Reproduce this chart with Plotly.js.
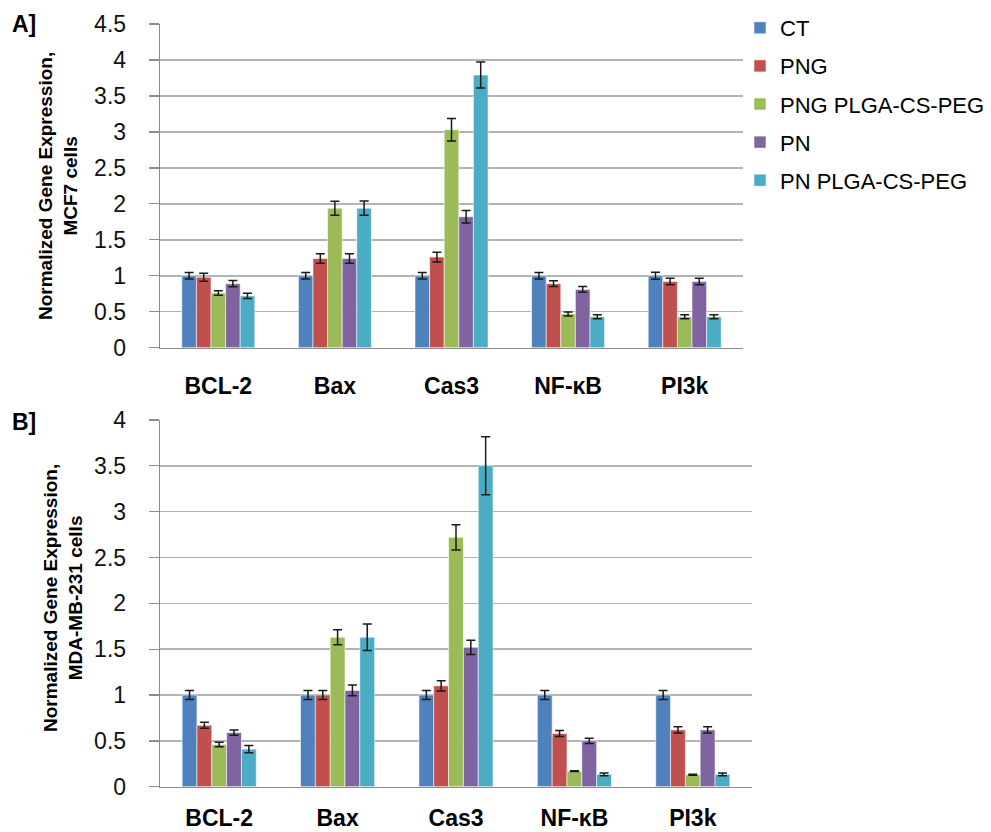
<!DOCTYPE html>
<html>
<head>
<meta charset="utf-8">
<script src="https://cdn.plot.ly/plotly-3.0.1.min.js"></script>
<style>html,body{margin:0;padding:0;background:#fff}#chart{width:991px;height:832px}</style>
</head>
<body>
<div id="chart"></div>
<script>
// ---- data ----
const categories = ["BCL-2", "Bax", "Cas3", "NF-κB", "PI3k"];
const seriesNames = ["CT", "PNG", "PNG PLGA-CS-PEG", "PN", "PN PLGA-CS-PEG"];
const seriesColors = ["#4F81BD", "#C0504D", "#9BBB59", "#8064A2", "#4BACC6"];

// Panel A: MCF7 cells
const mcf7_CT        = [1.00, 1.00, 1.00, 1.00, 1.00];
const mcf7_PNG       = [0.98, 1.24, 1.26, 0.89, 0.92];
const mcf7_PNG_PLGA  = [0.76, 1.94, 3.03, 0.47, 0.43];
const mcf7_PN        = [0.89, 1.24, 1.82, 0.81, 0.92];
const mcf7_PN_PLGA   = [0.72, 1.94, 3.79, 0.43, 0.43];
const mcf7_err_CT       = [0.046, 0.046, 0.046, 0.046, 0.05];
const mcf7_err_PNG      = [0.056, 0.065, 0.067, 0.04, 0.046];
const mcf7_err_PNG_PLGA = [0.03, 0.097, 0.155, 0.028, 0.028];
const mcf7_err_PN       = [0.044, 0.065, 0.086, 0.04, 0.046];
const mcf7_err_PN_PLGA  = [0.037, 0.1, 0.18, 0.028, 0.028];

// Panel B: MDA-MB-231 cells
const mda_CT        = [1.00, 1.00, 1.00, 1.00, 1.00];
const mda_PNG       = [0.67, 1.00, 1.10, 0.58, 0.62];
const mda_PNG_PLGA  = [0.46, 1.63, 2.72, 0.17, 0.13];
const mda_PN        = [0.59, 1.05, 1.52, 0.50, 0.62];
const mda_PN_PLGA   = [0.41, 1.63, 3.50, 0.135, 0.135];
const mda_err_CT       = [0.05, 0.05, 0.05, 0.05, 0.05];
const mda_err_PNG      = [0.033, 0.05, 0.056, 0.033, 0.035];
const mda_err_PNG_PLGA = [0.025, 0.082, 0.138, 0.005, 0.005];
const mda_err_PN       = [0.029, 0.058, 0.078, 0.029, 0.035];
const mda_err_PN_PLGA  = [0.04, 0.145, 0.316, 0.015, 0.015];

const yTicksA = [0, 0.5, 1, 1.5, 2, 2.5, 3, 3.5, 4, 4.5];
const yTickTextA = ["0", "0.5", "1", "1.5", "2", "2.5", "3", "3.5", "4", "4.5"];
const yTicksB = [0, 0.5, 1, 1.5, 2, 2.5, 3, 3.5, 4];
const yTickTextB = ["0", "0.5", "1", "1.5", "2", "2.5", "3", "3.5", "4"];

const valsA = [mcf7_CT, mcf7_PNG, mcf7_PNG_PLGA, mcf7_PN, mcf7_PN_PLGA];
const errsA = [mcf7_err_CT, mcf7_err_PNG, mcf7_err_PNG_PLGA, mcf7_err_PN, mcf7_err_PN_PLGA];
const valsB = [mda_CT, mda_PNG, mda_PNG_PLGA, mda_PN, mda_PN_PLGA];
const errsB = [mda_err_CT, mda_err_PNG, mda_err_PNG_PLGA, mda_err_PN, mda_err_PN_PLGA];

const FONT = "Liberation Sans, Arial, sans-serif";
const traces = [];
function addPanel(vals, errs, xa, ya, showleg) {
  for (let i = 0; i < seriesNames.length; i++) {
    traces.push({
      type: "bar",
      name: seriesNames[i],
      x: categories,
      y: vals[i],
      xaxis: xa, yaxis: ya,
      legendgroup: "g" + i,
      showlegend: showleg,
      marker: {color: seriesColors[i], line: {color: "rgba(255,255,255,0.55)", width: 1}},
      error_y: {type: "data", array: errs[i], visible: true, color: "#1a1a1a", thickness: 1.5, width: 4.5},
      hoverinfo: "skip"
    });
  }
}
addPanel(valsA, errsA, "x", "y", true);
addPanel(valsB, errsB, "x2", "y2", false);

const W = 991, H = 832;
const gridCol = "#b3b3b3";
const axisCol = "#8c8c8c";
function yax(domain, range, tv, tt) {
  return {
    domain: domain, range: range, tickvals: tv, ticktext: tt,
    showgrid: true, gridcolor: gridCol, gridwidth: 1.5,
    showline: true, linecolor: axisCol, linewidth: 1.3,
    ticks: "outside", ticklen: 10, tickcolor: axisCol, tickwidth: 1.3,
    ticklabelstandoff: 18,
    tickfont: {family: FONT, size: 23, color: "#111"},
    zeroline: false, fixedrange: true
  };
}
function xax(domain, anchor, standoff) {
  return {
    domain: domain, anchor: anchor,
    showline: true, linecolor: axisCol, linewidth: 1.3,
    ticks: "", showgrid: false,
    ticklabelstandoff: standoff,
    tickfont: {family: FONT, size: 23, color: "#000", weight: "bold"},
    fixedrange: true
  };
}

const layout = {
  width: W, height: H,
  margin: {l: 0, r: 0, t: 0, b: 0, autoexpand: false},
  paper_bgcolor: "#fff", plot_bgcolor: "#fff",
  barmode: "group", bargap: 0.374, bargroupgap: 0,
  font: {family: FONT, color: "#000"},
  xaxis: xax([160 / W, 743 / W], "y", 17),
  yaxis: Object.assign(yax([1 - 347.7 / H, 1 - 24 / H], [0, 4.5], yTicksA, yTickTextA), {anchor: "x"}),
  xaxis2: xax([160 / W, 752 / W], "y2", 10),
  yaxis2: Object.assign(yax([1 - 786.7 / H, 1 - 420 / H], [0, 4], yTicksB, yTickTextB), {anchor: "x2"}),
  showlegend: true,
  legend: {
    x: 740 / W, y: 1 - 7 / H, xanchor: "left", yanchor: "top",
    font: {family: FONT, size: 22, color: "#000"},
    traceorder: "grouped", tracegroupgap: 6.5,
    itemwidth: 30, bgcolor: "rgba(0,0,0,0)"
  },
  annotations: [
    {text: "<b>A]</b>", x: 10 / W, y: 1 - 24 / H, xref: "paper", yref: "paper", xanchor: "left", yanchor: "middle", showarrow: false, font: {family: FONT, size: 23}},
    {text: "<b>B]</b>", x: 10 / W, y: 1 - 422 / H, xref: "paper", yref: "paper", xanchor: "left", yanchor: "middle", showarrow: false, font: {family: FONT, size: 23}},
    {text: "<b>Normalized Gene Expression,<br>MCF7 cells</b>", x: 58 / W, y: 1 - 186 / H, xref: "paper", yref: "paper", xanchor: "center", yanchor: "middle", textangle: -90, showarrow: false, font: {family: FONT, size: 19}},
    {text: "<b>Normalized Gene Expression,<br>MDA-MB-231 cells</b>", x: 63 / W, y: 1 - 598 / H, xref: "paper", yref: "paper", xanchor: "center", yanchor: "middle", textangle: -90, showarrow: false, font: {family: FONT, size: 19}}
  ]
};

Plotly.newPlot("chart", traces, layout, {staticPlot: true, displayModeBar: false});
</script>
</body>
</html>
